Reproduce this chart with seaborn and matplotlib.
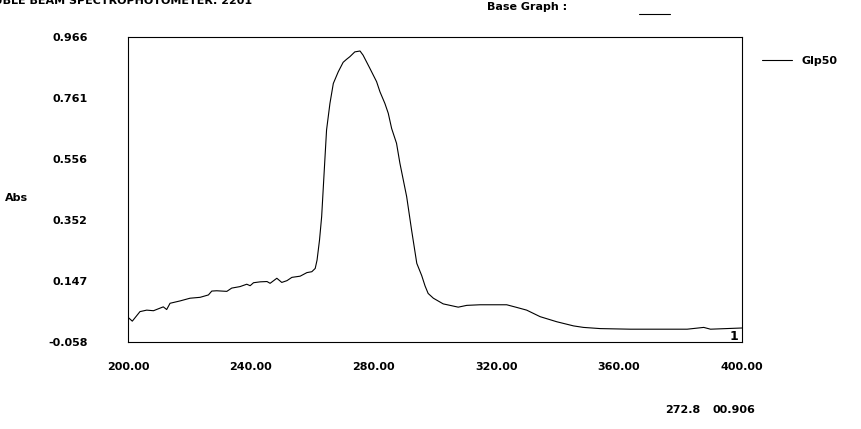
import numpy as np
import pandas as pd
import matplotlib
matplotlib.use('Agg')
import matplotlib.pyplot as plt
from matplotlib.lines import Line2D
import seaborn as sns

comprimento = [200.0, 201.4, 203.9, 206.1, 208.3, 211.5, 212.6, 213.7, 217.0, 220.2,
               223.5, 226.2, 227.3, 228.9, 232.2, 233.8, 236.5, 238.7, 239.8, 240.9,
               243.1, 245.3, 246.3, 248.5, 250.1, 251.8, 253.4, 256.1, 258.3, 259.9,
               261.0, 261.6, 262.4, 263.1, 264.2, 264.7, 265.8, 266.9, 268.5, 270.1,
               271.2, 272.3, 273.9, 275.6, 276.6, 278.8, 281.0, 282.1, 283.7, 284.8,
               285.9, 287.5, 288.6, 290.8, 292.4, 294.1, 295.7, 296.8, 297.8, 299.5,
               302.7, 307.6, 310.4, 314.7, 323.4, 326.7, 329.9, 334.3, 339.7, 345.2,
               348.4, 353.9, 363.7, 382.2, 387.6, 389.8, 400.0]
absorbancia = [0.025, 0.012, 0.044, 0.049, 0.047, 0.060, 0.051, 0.072, 0.080, 0.089,
               0.092, 0.100, 0.113, 0.114, 0.112, 0.123, 0.128, 0.136, 0.131, 0.141,
               0.144, 0.145, 0.139, 0.156, 0.142, 0.148, 0.159, 0.163, 0.175, 0.178,
               0.189, 0.217, 0.284, 0.363, 0.564, 0.654, 0.743, 0.810, 0.849, 0.881,
               0.891, 0.900, 0.916, 0.919, 0.905, 0.861, 0.816, 0.782, 0.743, 0.710,
               0.659, 0.609, 0.542, 0.430, 0.318, 0.206, 0.165, 0.130, 0.105, 0.089,
               0.070, 0.059, 0.065, 0.067, 0.067, 0.058, 0.049, 0.027, 0.010, -0.004,
               -0.009, -0.013, -0.015, -0.015, -0.009, -0.015, -0.011]

x_ticks = [200, 240, 280, 320, 360, 400]
x_labels = ['200.00', '240.00', '280.00', '320.00', '360.00', '400.00']
y_ticks = [-0.058, 0.147, 0.352, 0.556, 0.761, 0.966]
y_labels = ['-0.058', '0.147', '0.352', '0.556', '0.761', '0.966']

df = pd.DataFrame({'nm': comprimento, 'abs': absorbancia})

sns.set_style('white')
plt.rcParams['font.family'] = ['DejaVu Sans']
plt.rcParams['font.weight'] = 'bold'
plt.rcParams['font.size'] = 8
plt.rcParams['text.color'] = 'black'
plt.rcParams['xtick.color'] = 'black'
plt.rcParams['ytick.color'] = 'black'
plt.rcParams['axes.labelcolor'] = 'black'

W, H = 862, 429
fig = plt.figure(figsize=(W / 100, H / 100), dpi=100)
ax = fig.add_axes([128 / W, 87 / H, (741.8 - 128) / W, (342 - 37) / H])

sns.lineplot(data=df, x='nm', y='abs', ax=ax, color='black', linewidth=0.8,
             label='Glp50', sort=False)

ax.set_xlim(200, 400)
ax.set_ylim(-0.058, 0.966)
ax.set_xticks(x_ticks)
ax.set_xticklabels(x_labels)
ax.set_yticks(y_ticks)
ax.set_yticklabels(y_labels)
ax.set_xlabel('')
ax.set_ylabel('')
ax.tick_params(axis='x', direction='out', length=5, width=0.8, pad=9.5,
               color='black', labelcolor='black', labelsize=8)
ax.tick_params(axis='y', direction='out', length=3, width=0.8, pad=26,
               color='black', labelcolor='black', labelsize=8)
for s in ax.spines.values():
    s.set_visible(True)
    s.set_color('black')
    s.set_linewidth(0.8)

leg = ax.legend(loc='center left', bbox_to_anchor=(762 / W, 1 - 61 / H),
                bbox_transform=fig.transFigure, frameon=False, handlelength=2.7,
                handletextpad=0.9, borderpad=0, borderaxespad=0,
                prop={'weight': 'bold', 'size': 8})
for t in leg.get_texts():
    t.set_color('black')

# textos soltos da tela do aparelho
fig.text(252 / W, 1 - 4.5 / H, 'DOUBLE BEAM SPECTROPHOTOMETER: 2201',
         ha='right', va='baseline')
fig.text(487 / W, 1 - 7.5 / H, 'Base Graph :', ha='left', va='center')
fig.add_artist(Line2D([639 / W, 670 / W], [1 - 14.3 / H, 1 - 14.3 / H],
                      transform=fig.transFigure, color='black', linewidth=0.8))
fig.text(5 / W, 1 - 198 / H, 'Abs', ha='left', va='center')
fig.text(738 / W, 1 - 336 / H, '1', ha='right', va='center', fontsize=9)
fig.text(665 / W, 1 - 410 / H, '272.8', ha='left', va='center')
fig.text(713 / W, 1 - 410 / H, '00.906', ha='left', va='center')

fig.savefig('out.png', dpi=100, facecolor='white')
